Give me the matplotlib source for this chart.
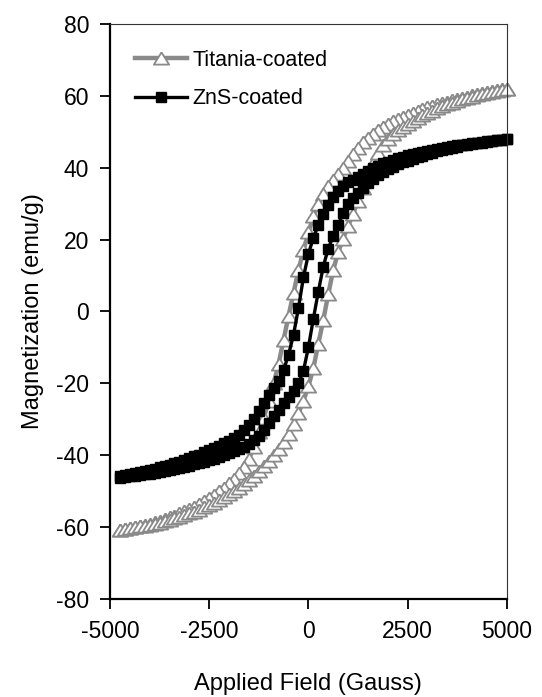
import matplotlib
matplotlib.use("Agg")
import matplotlib.pyplot as plt

plt.rcParams['font.family'] = ['Liberation Sans', 'DejaVu Sans']
plt.rcParams['axes.unicode_minus'] = False

# applied field, sweep down from +5000 to -4750 (Gauss); the return sweep uses the same points reversed
field_down = [5000, 4875, 4750, 4625, 4500, 4375, 4250, 4125, 4000, 3875,
              3750, 3625, 3500, 3375, 3250, 3125, 3000, 2875, 2750, 2625,
              2500, 2375, 2250, 2125, 2000, 1875, 1750, 1625, 1500, 1375,
              1250, 1125, 1000, 875, 750, 625, 500, 375, 250, 125,
              0, -125, -250, -375, -500, -625, -750, -875, -1000, -1125,
              -1250, -1375, -1500, -1625, -1750, -1875, -2000, -2125, -2250, -2375,
              -2500, -2625, -2750, -2875, -3000, -3125, -3250, -3375, -3500, -3625,
              -3750, -3875, -4000, -4125, -4250, -4375, -4500, -4625, -4750]
field_up = field_down[::-1]

# Titania-coated, magnetization (emu/g)
titania_down = [62.0, 61.8, 61.5, 61.3, 61.0, 60.7, 60.4, 60.1, 59.8, 59.5,
                59.1, 58.8, 58.4, 58.0, 57.6, 57.2, 56.8, 56.3, 55.8, 55.3,
                54.8, 54.2, 53.6, 52.9, 52.2, 51.4, 50.5, 49.5, 48.4, 47.1,
                45.6, 43.9, 42.0, 40.0, 38.2, 36.6, 34.8, 32.6, 30.0, 26.5,
                22.0, 17.0, 11.5, 5.2, -1.2, -7.8, -14.5, -20.0, -25.0, -29.5,
                -33.6, -37.8, -41.0, -43.2, -45.0, -46.5, -47.8, -49.0, -50.0, -51.0,
                -51.9, -52.8, -53.6, -54.3, -55.0, -55.6, -56.2, -56.8, -57.3, -57.8,
                -58.3, -58.7, -59.1, -59.4, -59.7, -60.0, -60.3, -60.5, -60.7]
titania_up = [-60.7, -60.5, -60.3, -60.0, -59.8, -59.6, -59.4, -59.1, -58.8, -58.4,
              -58.0, -57.6, -57.2, -56.7, -56.2, -55.7, -55.1, -54.5, -53.9, -53.2,
              -52.5, -51.7, -50.9, -50.0, -49.0, -48.0, -46.9, -45.7, -44.4, -43.0,
              -41.5, -40.0, -38.3, -36.3, -34.0, -31.3, -28.3, -24.8, -20.8, -15.8,
              -9.0, -2.4, 4.8, 11.5, 16.5, 20.3, 23.8, 27.2, 30.7, 34.3,
              38.0, 41.3, 44.0, 46.2, 48.0, 49.3, 50.4, 51.4, 52.3, 53.1,
              53.9, 54.6, 55.3, 55.9, 56.5, 57.1, 57.6, 58.1, 58.6, 59.0,
              59.4, 59.8, 60.1, 60.5, 60.8, 61.1, 61.4, 61.7, 62.0]

# ZnS-coated, magnetization (emu/g)
zns_down = [47.9, 47.8, 47.7, 47.5, 47.4, 47.2, 47.0, 46.8, 46.6, 46.4,
            46.2, 46.0, 45.8, 45.5, 45.3, 45.0, 44.7, 44.4, 44.1, 43.8,
            43.5, 43.1, 42.7, 42.2, 41.7, 41.2, 40.6, 39.9, 39.1, 38.3,
            37.5, 36.7, 35.9, 34.9, 33.6, 31.9, 29.6, 27.0, 24.0, 20.5,
            16.0, 9.5, 1.0, -6.5, -12.0, -16.3, -19.3, -21.3, -23.3, -25.6,
            -27.8, -29.9, -31.7, -33.1, -34.3, -35.2, -35.9, -36.6, -37.3, -38.0,
            -38.6, -39.2, -39.8, -40.3, -40.8, -41.3, -41.8, -42.2, -42.6, -43.0,
            -43.4, -43.8, -44.1, -44.4, -44.7, -45.0, -45.3, -45.6, -45.9]
zns_up = [-46.3, -46.1, -45.9, -45.7, -45.5, -45.3, -45.1, -44.9, -44.6, -44.4,
          -44.1, -43.8, -43.5, -43.2, -42.9, -42.5, -42.2, -41.8, -41.4, -41.0,
          -40.5, -40.0, -39.5, -38.9, -38.3, -37.6, -36.8, -35.8, -34.6, -33.0,
          -31.0, -29.2, -27.3, -25.5, -23.8, -22.0, -20.0, -16.5, -10.0, -2.0,
          5.5, 12.5, 17.5, 21.0, 24.1, 27.3, 29.8, 31.6, 33.0, 34.4,
          35.7, 36.9, 37.9, 38.8, 39.6, 40.3, 40.9, 41.5, 42.0, 42.5,
          43.0, 43.4, 43.8, 44.2, 44.6, 45.0, 45.3, 45.6, 45.9, 46.2,
          46.4, 46.6, 46.8, 47.0, 47.2, 47.4, 47.6, 47.7, 47.9]

x_ticks = [-5000, -2500, 0, 2500, 5000]
y_ticks = [-80, -60, -40, -20, 0, 20, 40, 60, 80]

GRAY = "#8a8a8a"
tri = [(0, 0.8), (-1, -0.8), (1, -0.8), (0, 0.8)]  # flatter triangle than '^'

fig = plt.figure(figsize=(5.42, 6.97), dpi=100)
ax = fig.add_axes([0.203, 0.1406, 0.732, 0.825])

ax.plot(field_down + field_up, titania_down + titania_up, color=GRAY, lw=3.2,
        marker=tri, ms=11, mfc="white", mec=GRAY, mew=1.3, clip_on=False,
        label="Titania-coated")
ax.plot(field_down + field_up, zns_down + zns_up, color="black", lw=2.4,
        marker="s", ms=7, mfc="black", mec="black", clip_on=False,
        label="ZnS-coated")

ax.set_xlim(-5000, 5000); ax.set_ylim(-80, 80)
ax.set_xticks(x_ticks); ax.set_yticks(y_ticks)
ax.tick_params(direction="out", length=7, width=1.3, labelsize=16.5, pad=8)
for s in ("left", "bottom"):
    ax.spines[s].set_linewidth(1.6); ax.spines[s].set_color("black")
for s in ("top", "right"):
    ax.spines[s].set_linewidth(0.8); ax.spines[s].set_color("#333333")

ax.set_xlabel("Applied Field (Gauss)", fontsize=17, labelpad=22)
ax.set_ylabel("Magnetization (emu/g)", fontsize=17, labelpad=9)

ax.legend(loc="upper left", bbox_to_anchor=(0.063, 0.955), frameon=False,
          fontsize=15.5, handlelength=2.4, handletextpad=0.25, labelspacing=0.8,
          borderpad=0, borderaxespad=0, numpoints=1)

fig.savefig("out.png", dpi=100, facecolor="white")
